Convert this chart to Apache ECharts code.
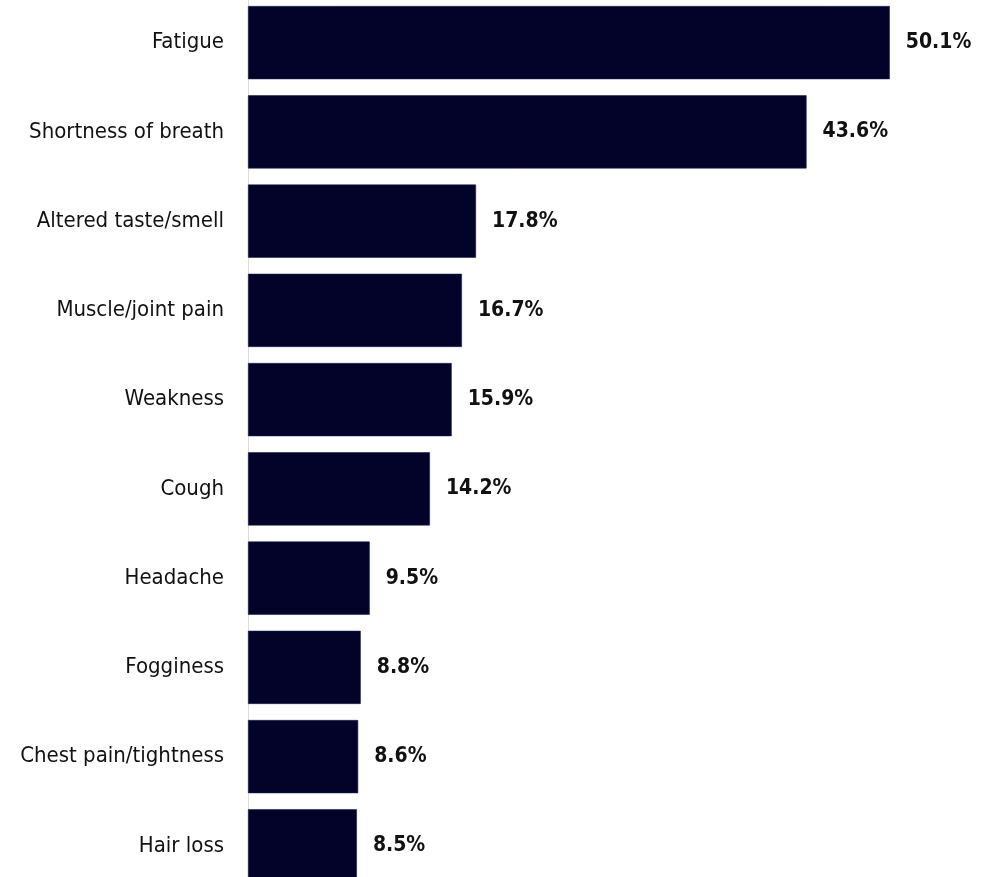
<!DOCTYPE html>
<html>
<head>
<meta charset="utf-8">
<script src="https://cdn.jsdelivr.net/npm/echarts@6/dist/echarts.min.js"></script>
<style>
  html, body { margin: 0; padding: 0; background: #ffffff; }
  #chart { width: 986px; height: 877px; }
</style>
</head>
<body>
<div id="chart"></div>
<script>
// Most common persistent symptoms, share of respondents (%)
const symptoms = [
  'Fatigue',
  'Shortness of breath',
  'Altered taste/smell',
  'Muscle/joint pain',
  'Weakness',
  'Cough',
  'Headache',
  'Fogginess',
  'Chest pain/tightness',
  'Hair loss'
];
const shares = [50.1, 43.6, 17.8, 16.7, 15.9, 14.2, 9.5, 8.8, 8.6, 8.5];

const FONT = '"DejaVu Sans Condensed", "Liberation Sans Narrow", sans-serif';

const chart = echarts.init(document.getElementById('chart'), null, { renderer: 'canvas' });
chart.setOption({
  animation: false,
  backgroundColor: '#ffffff',
  grid: {
    left: 248, right: 33.4, top: -2, bottom: -13.5,
    containLabel: false,
    outerBoundsMode: 'none'
  },
  xAxis: {
    type: 'value',
    min: 0,
    max: 55,
    show: false
  },
  yAxis: {
    type: 'category',
    data: symptoms,
    inverse: true,
    axisLine: { show: true, lineStyle: { color: '#dcdcdc', width: 1 } },
    axisTick: { show: false },
    axisLabel: {
      margin: 24,
      color: '#111111',
      fontFamily: FONT,
      fontSize: 22
    },
    splitLine: { show: false }
  },
  series: [{
    type: 'bar',
    data: shares,
    barCategoryGap: '18%',
    itemStyle: { color: '#03032a', borderColor: '#1a2150', borderWidth: 0.6 },
    label: {
      show: true,
      position: 'right',
      distance: 16,
      color: '#111111',
      fontFamily: FONT,
      fontWeight: 'bold',
      fontSize: 21,
      formatter: p => p.value.toFixed(1) + '%'
    }
  }]
});
</script>
</body>
</html>
